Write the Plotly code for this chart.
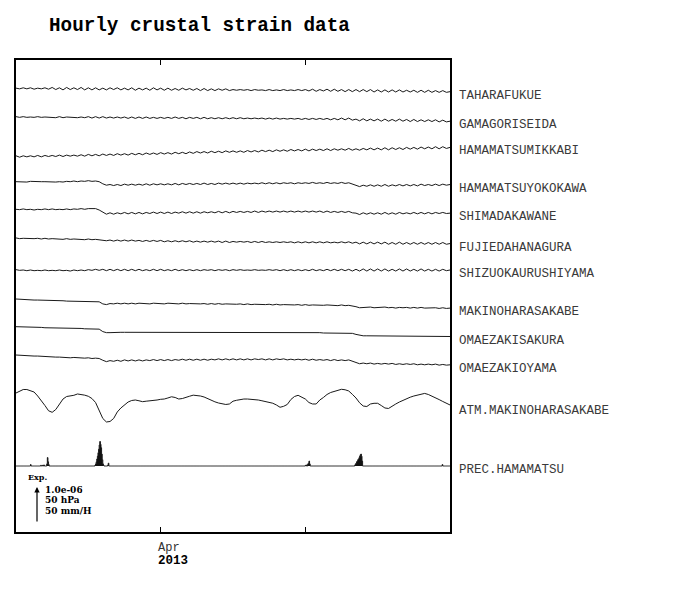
import pandas as pd
import plotly.graph_objects as go

# ---------------- data ----------------
START = "2013-03-22 00:00"
END = "2013-04-21 00:00"
times_6h = [t.strftime("%Y-%m-%d %H:%M") for t in pd.date_range(START, periods=121, freq="6h")]
times_1h = [t.strftime("%Y-%m-%d %H:%M") for t in pd.date_range(START, periods=721, freq="h")]

station_names = ["TAHARAFUKUE", "GAMAGORISEIDA", "HAMAMATSUMIKKABI", "HAMAMATSUYOKOKAWA",
                 "SHIMADAKAWANE", "FUJIEDAHANAGURA", "SHIZUOKAURUSHIYAMA", "MAKINOHARASAKABE",
                 "OMAEZAKISAKURA", "OMAEZAKIOYAMA"]

# strain, units of 1e-8 (relative to start), 6-hourly samples
tahara = [1, -1, 2, -1, 2, -2, 1, -1, 2, -2,
          3, -3, 2, -4, 3, -3, 2, -3, 3, -4,
          2, -4, 2, -4, 1, -4, 2, -3, 2, -4,
          1, -4, 2, -5, 1, -4, 1, -5, 2, -4,
          1, -5, 1, -5, 0, -5, 1, -4, 0, -5,
          0, -6, 0, -6, -1, -6, -1, -5, -1, -6,
          -3, -5, -3, -5, -3, -6, -3, -5, -4, -6,
          -3, -6, -4, -6, -3, -6, -4, -6, -3, -6,
          -3, -7, -2, -8, -3, -7, -2, -8, -2, -8,
          -3, -9, -3, -9, -3, -9, -3, -9, -3, -10,
          -4, -10, -4, -10, -4, -10, -4, -10, -5, -10,
          -5, -11, -5, -11, -5, -11, -6, -11, -6, -11,
          -9]
gamagori = [1, -1, 1, -1, 0, -1, 1, -1, 0, -1,
            0, -2, 1, -2, 0, -1, 0, -2, 0, -2,
            1, -3, 1, -3, 1, -3, 0, -3, 0, -3,
            0, -4, 0, -4, 0, -4, 0, -4, -1, -4,
            -1, -4, -1, -4, 0, -4, -1, -5, -1, -4,
            -1, -5, -1, -5, -2, -5, -2, -5, -2, -5,
            -2, -5, -2, -5, -3, -5, -3, -5, -3, -6,
            -3, -6, -3, -6, -4, -6, -4, -6, -4, -7,
            -4, -7, -4, -7, -4, -7, -4, -8, -4, -8,
            -3, -8, -3, -9, -6, -11, -5, -11, -6, -11,
            -6, -12, -6, -12, -7, -12, -6, -12, -7, -13,
            -7, -13, -8, -13, -8, -13, -8, -14, -9, -14,
            -12]
mikkabi = [2, -2, 2, -1, 2, -1, 3, -1, 3, 0,
           3, 0, 4, 0, 4, 1, 4, 1, 5, 1,
           6, 2, 6, 2, 7, 3, 7, 3, 8, 4,
           8, 4, 9, 5, 9, 5, 10, 6, 10, 6,
           11, 7, 11, 7, 12, 8, 12, 8, 13, 9,
           14, 10, 14, 10, 15, 11, 15, 11, 16, 12,
           16, 12, 16, 12, 17, 13, 17, 13, 18, 14,
           18, 14, 19, 15, 19, 15, 20, 16, 20, 16,
           21, 16, 21, 17, 21, 17, 22, 17, 22, 18,
           22, 18, 23, 18, 22, 18, 23, 19, 24, 19,
           24, 19, 25, 19, 25, 20, 25, 20, 26, 21,
           26, 21, 27, 22, 27, 22, 28, 22, 28, 23,
           26]
yokokawa = [0, -1, 0, -1, 1, 0, 1, 0, 0, -1,
            0, -1, 0, -1, 1, 0, 2, 0, 2, 1,
            3, 1, 2, 0, -6, -10, -8, -11, -8, -11,
            -7, -10, -7, -10, -7, -10, -6, -10, -6, -9,
            -6, -9, -6, -9, -5, -9, -5, -8, -5, -8,
            -5, -8, -4, -8, -5, -8, -4, -7, -4, -7,
            -4, -7, -4, -7, -4, -6, -4, -6, -3, -6,
            -3, -6, -3, -6, -3, -5, -3, -6, -3, -5,
            -3, -5, -2, -5, -3, -5, -2, -5, -3, -5,
            -2, -5, -3, -6, -9, -14, -10, -13, -9, -13,
            -9, -13, -8, -13, -9, -12, -8, -12, -8, -12,
            -8, -12, -7, -11, -8, -11, -7, -11, -7, -10,
            -8]
shimada = [0, -1, 1, -1, 0, -2, 0, -1, 1, -1,
           1, -1, 0, -1, 1, -1, 1, 0, 2, 0,
           2, 1, 2, -2, -9, -14, -10, -14, -10, -13,
           -9, -13, -9, -13, -9, -13, -9, -12, -8, -12,
           -8, -12, -8, -12, -8, -11, -7, -11, -7, -11,
           -7, -11, -7, -10, -7, -10, -6, -10, -6, -10,
           -6, -9, -6, -9, -6, -9, -5, -9, -5, -8,
           -5, -8, -5, -8, -5, -8, -5, -8, -5, -8,
           -5, -8, -5, -8, -5, -9, -5, -9, -6, -9,
           -6, -9, -6, -10, -11, -15, -10, -14, -10, -14,
           -10, -14, -9, -14, -10, -14, -9, -13, -10, -13,
           -9, -13, -9, -13, -9, -13, -9, -12, -9, -12,
           -11]
fujieda = [1, -1, 0, -1, 0, -1, 0, -2, 0, -2,
           -1, -2, -1, -3, -1, -3, -2, -3, -2, -4,
           -2, -4, -3, -5, -5, -7, -5, -8, -5, -8,
           -5, -8, -5, -8, -6, -9, -6, -9, -6, -9,
           -6, -10, -7, -10, -7, -10, -7, -10, -7, -11,
           -8, -11, -8, -11, -8, -11, -8, -12, -8, -12,
           -9, -11, -9, -11, -9, -12, -9, -12, -9, -12,
           -10, -12, -10, -12, -10, -12, -10, -13, -10, -13,
           -10, -13, -10, -13, -10, -13, -10, -13, -11, -13,
           -10, -13, -10, -14, -11, -16, -11, -16, -11, -16,
           -11, -16, -11, -17, -12, -17, -11, -17, -12, -17,
           -12, -17, -12, -17, -12, -17, -12, -17, -12, -17,
           -15]
urushiyama = [1, -1, 0, -2, 0, -2, -1, -2, 0, -2,
              -1, -2, 0, -2, -1, -3, 0, -2, 0, -2,
              1, -1, 2, -1, 2, -2, 2, -2, 2, -2,
              2, -2, 2, -2, 2, -2, 1, -2, 2, -2,
              2, -2, 1, -2, 2, -2, 1, -2, 1, -2,
              1, -2, 1, -1, 1, -2, 1, -1, 1, -2,
              1, -1, 1, -1, 0, -1, 1, -1, 0, -1,
              1, -1, 1, -2, 1, -2, 1, -2, 1, -2,
              1, -2, 2, -2, 1, -2, 2, -2, 2, -2,
              2, -2, 2, -3, 2, -3, 3, -3, 3, -3,
              3, -3, 3, -3, 2, -3, 3, -3, 3, -3,
              2, -3, 3, -3, 2, -3, 2, -3, 2, -2,
              0]
makinohara = [0, -1, -1, -2, -2, -3, -3, -3, -4, -4,
              -4, -5, -5, -5, -6, -6, -6, -7, -6, -7,
              -7, -8, -7, -8, -14, -16, -13, -14, -12, -14,
              -12, -14, -12, -14, -12, -13, -12, -14, -12, -13,
              -12, -14, -12, -13, -12, -14, -12, -14, -13, -14,
              -13, -14, -13, -15, -13, -15, -13, -15, -14, -15,
              -14, -15, -14, -16, -14, -16, -15, -16, -15, -16,
              -15, -17, -15, -17, -16, -17, -16, -17, -16, -18,
              -16, -18, -17, -18, -17, -18, -17, -18, -17, -19,
              -17, -19, -18, -19, -22, -25, -24, -25, -23, -25,
              -24, -25, -23, -25, -24, -26, -24, -25, -24, -26,
              -24, -26, -24, -26, -25, -26, -25, -27, -25, -27,
              -26]
sakura = [0, 0, -1, -1, -1, -2, -2, -2, -3, -3,
          -3, -3, -4, -4, -4, -5, -5, -5, -5, -6,
          -6, -6, -7, -7, -14, -17, -17, -16, -16, -16,
          -16, -16, -16, -16, -16, -16, -15, -16, -15, -15,
          -15, -15, -15, -15, -15, -15, -15, -15, -15, -15,
          -15, -15, -15, -15, -15, -15, -15, -15, -15, -16,
          -15, -16, -15, -16, -15, -16, -16, -16, -16, -16,
          -16, -16, -16, -16, -16, -16, -16, -16, -16, -17,
          -17, -17, -17, -17, -17, -18, -18, -18, -18, -18,
          -18, -19, -19, -19, -22, -25, -26, -26, -26, -26,
          -26, -26, -26, -26, -26, -26, -26, -26, -26, -26,
          -26, -26, -27, -27, -27, -27, -27, -27, -28, -28,
          -28]
oyama = [0, -1, -1, -2, -2, -3, -3, -4, -4, -5,
         -5, -6, -6, -7, -6, -8, -7, -8, -8, -9,
         -8, -10, -9, -10, -15, -19, -16, -18, -15, -18,
         -14, -17, -14, -17, -14, -17, -14, -16, -13, -16,
         -13, -16, -13, -16, -13, -15, -12, -15, -12, -15,
         -12, -15, -12, -15, -12, -14, -11, -14, -11, -14,
         -11, -14, -11, -14, -11, -14, -11, -13, -11, -14,
         -11, -14, -11, -13, -11, -14, -12, -14, -12, -14,
         -12, -15, -12, -15, -13, -15, -13, -16, -13, -16,
         -14, -16, -14, -17, -20, -25, -23, -25, -23, -26,
         -24, -26, -24, -26, -24, -27, -25, -27, -25, -27,
         -25, -28, -26, -28, -26, -28, -26, -29, -27, -29,
         -28]

# atmospheric pressure (hPa), 6-hourly
atm_hpa = [1020.0, 1022.1, 1025.0, 1025.0, 1023.6, 1021.4, 1015.7, 1009.3, 1002.1, 994.6,
           992.4, 996.4, 1004.3, 1011.4, 1015.0, 1015.7, 1016.7, 1018.6, 1017.9, 1016.9,
           1015.3, 1012.1, 1006.4, 993.6, 983.6, 978.6, 979.3, 983.6, 992.9, 998.6,
           1002.9, 1007.1, 1009.3, 1010.0, 1008.9, 1007.6, 1008.3, 1008.6, 1009.0, 1010.0,
           1011.0, 1011.4, 1012.9, 1014.6, 1013.6, 1011.4, 1012.1, 1014.3, 1015.4, 1016.9,
           1016.7, 1015.7, 1014.3, 1011.7, 1009.3, 1007.4, 1005.7, 1004.6, 1003.6, 1004.3,
           1008.3, 1009.6, 1010.7, 1011.4, 1011.4, 1011.1, 1010.7, 1010.0, 1008.9, 1007.9,
           1006.7, 1005.4, 1002.9, 999.6, 1001.0, 1003.6, 1010.7, 1015.0, 1016.7, 1014.6,
           1011.4, 1006.4, 1004.3, 1004.3, 1010.0, 1013.6, 1017.9, 1020.7, 1022.6, 1024.3,
           1025.3, 1024.6, 1022.9, 1018.1, 1012.9, 1006.0, 1001.4, 1000.7, 1004.3, 1005.3,
           1005.3, 1002.1, 998.6, 997.9, 1001.4, 1004.3, 1007.1, 1009.6, 1012.3, 1014.0,
           1015.7, 1017.3, 1018.3, 1019.4, 1017.9, 1015.7, 1013.1, 1010.6, 1007.9, 1005.0,
           1002.9]

# hourly precipitation (mm/h): hours (from start) with rain and amounts; all other hours are 0
rain_hours = [24, 41, 44, 46, 51, 52, 53, 54,
              131, 132, 133, 134, 135, 136, 137, 138, 139, 140, 141, 142, 143, 144, 145,
              152, 153, 480, 482, 484, 485, 486, 487,
              562, 563, 564, 565, 566, 567, 568, 569, 570, 571, 572, 573, 574, 707]
rain_mm = [2, 1, 1, 1.5, 3, 12, 6, 2,
           1.4, 3, 6, 10, 14, 19, 24, 30, 35, 31, 26, 17, 9, 3, 1,
           1, 4, 1, 1.5, 3, 4, 7, 3,
           1.4, 3, 4, 6, 7, 9, 10, 12, 14, 16, 17, 14, 7, 2]

tick_dates = ["2013-04-01", "2013-04-11"]

# ---------------- layout constants ----------------
# the page body has an 8 px margin, so the figure is drawn 8 px in from the window corner
BODY = 8
W, H = 700 - 2 * BODY, 590 - 2 * BODY
PL, PR, PT, PB = 16 - BODY, 450 - BODY, 60 - BODY, 532 - BODY   # plot area in figure pixels
STRAIN_PX = 0.35                          # px per 1e-8 strain  (1.0e-06 -> 35 px)
HPA_PX = 0.7                              # px per hPa (50 hPa -> 35 px)
MM_PX = 0.7                               # px per mm/h (50 mm/H -> 35 px)
# window-pixel rows (converted below)
row_zero_px = [88.5, 117, 156.5, 181.7, 209.3, 238.3, 270, 299, 326.7, 355]
ATM_REF_HPA, ATM_REF_PX = 1010.0, 400
PREC_ZERO_PX = 466

strain_series = [tahara, gamagori, mikkabi, yokokawa, shimada, fujieda,
                 urushiyama, makinohara, sakura, oyama]

rain_full = [0.0] * len(times_1h)
for h, mm in zip(rain_hours, rain_mm):
    rain_full[h] = mm

fig = go.Figure()
LINE = dict(color="#1a1a1a", width=1)
label_font = dict(family="Liberation Mono", size=12.5, color="#3a3a3a")
annotations = []


def axis_range(zero_val, zero_px_window, scale):
    zp = zero_px_window - BODY
    return [zero_val - (PB - zp) / scale, zero_val + (zp - PT) / scale]


def px_x(px):
    return (px - BODY - PL) / (PR - PL)


def px_y(py):
    return (PB - (py - BODY)) / (PB - PT)


def axis_key(i):
    return "yaxis" if i == 1 else f"yaxis{i}"


def axis_ref(i):
    return "y" if i == 1 else f"y{i}"


axis_defs = {}
n = 1
for name, vals, zpx in zip(station_names, strain_series, row_zero_px):
    if n == 1:
        # base axis: carries the frame
        axis_defs["yaxis"] = dict(range=axis_range(0, zpx, STRAIN_PX), showline=True, linewidth=2,
                                  linecolor="black", mirror=True, ticks="", showticklabels=False,
                                  showgrid=False, zeroline=False, fixedrange=True)
    else:
        axis_defs[axis_key(n)] = dict(overlaying="y", anchor="x", range=axis_range(0, zpx, STRAIN_PX),
                                      visible=False, fixedrange=True)
    fig.add_trace(go.Scatter(x=times_6h, y=vals, mode="lines", line=LINE, yaxis=axis_ref(n), hoverinfo="skip"))
    annotations.append(dict(x=1, xref="paper", y=vals[-1], yref=axis_ref(n), text=name, showarrow=False,
                            xanchor="left", yanchor="middle", xshift=7, yshift=-4, font=label_font))
    n += 1

# atmospheric pressure
axis_defs[axis_key(n)] = dict(overlaying="y", anchor="x", range=axis_range(ATM_REF_HPA, ATM_REF_PX, HPA_PX),
                              visible=False, fixedrange=True)
fig.add_trace(go.Scatter(x=times_6h, y=atm_hpa, mode="lines", line=LINE, yaxis=axis_ref(n), hoverinfo="skip"))
annotations.append(dict(x=1, xref="paper", y=atm_hpa[-1], yref=axis_ref(n), text="ATM.MAKINOHARASAKABE",
                        showarrow=False, xanchor="left", yanchor="middle", xshift=7, yshift=-6, font=label_font))
n += 1

# precipitation
axis_defs[axis_key(n)] = dict(overlaying="y", anchor="x", range=axis_range(0, PREC_ZERO_PX, MM_PX),
                              visible=False, fixedrange=True)
fig.add_trace(go.Scatter(x=times_1h, y=rain_full, mode="lines", line=dict(color="#1a1a1a", width=1, shape="hv"),
                         fill="tozeroy", fillcolor="#111111", yaxis=axis_ref(n), hoverinfo="skip"))
annotations.append(dict(x=1, xref="paper", y=0, yref=axis_ref(n), text="PREC.HAMAMATSU",
                        showarrow=False, xanchor="left", yanchor="middle", xshift=7, yshift=-4, font=label_font))

# title
annotations.append(dict(x=px_x(47), y=px_y(26), xref="paper", yref="paper", yanchor="middle", xanchor="left",
                        text="<b>Hourly crustal strain data</b>", showarrow=False,
                        font=dict(family="Liberation Mono", size=19.3, color="black")))

# x tick labels
annotations.append(dict(x=tick_dates[0], xref="x", y=px_y(548), yref="paper", text="Apr", showarrow=False,
                        xanchor="left", yanchor="middle", xshift=-5,
                        font=dict(family="Liberation Mono", size=12, color="#333333")))
annotations.append(dict(x=tick_dates[0], xref="x", y=px_y(561), yref="paper", text="<b>2013</b>", showarrow=False,
                        xanchor="left", yanchor="middle", xshift=-5,
                        font=dict(family="Liberation Mono", size=12.5, color="black")))

# scale legend
annotations.append(dict(x=px_x(26), y=px_y(477), xref="paper", yref="paper", text="<b>Exp.</b>", showarrow=False,
                        xanchor="left", yanchor="middle",
                        font=dict(family="DejaVu Serif", size=8, color="black")))
for txt, py in [("1.0e-06", 489.5), ("50 hPa", 500), ("50 mm/H", 510.5)]:
    annotations.append(dict(x=px_x(43), y=px_y(py), xref="paper", yref="paper", text=f"<b>{txt}</b>",
                            showarrow=False, xanchor="left", yanchor="middle", height=10,
                            font=dict(family="DejaVu Serif", size=9, color="black")))
annotations.append(dict(x=px_x(37), y=px_y(487), xref="paper", yref="paper", ax=0, ay=36, axref="pixel",
                        ayref="pixel", text="", showarrow=True, arrowhead=2, arrowsize=0.9, arrowwidth=1.2,
                        arrowcolor="black"))

fig.update_layout(
    width=W, height=H,
    margin=dict(l=PL, r=W - PR, t=PT, b=H - PB, autoexpand=False),
    paper_bgcolor="white", plot_bgcolor="white",
    showlegend=False,
    xaxis=dict(type="date", range=[START, END], showline=True, linewidth=2, linecolor="black", mirror="ticks",
               ticks="inside", ticklen=5, tickwidth=1, tickcolor="black", tickmode="array", tickvals=tick_dates,
               ticktext=["", ""], showticklabels=False, showgrid=False, zeroline=False, fixedrange=True),
    annotations=annotations,
    **axis_defs,
)

fig.write_html("out.html")
